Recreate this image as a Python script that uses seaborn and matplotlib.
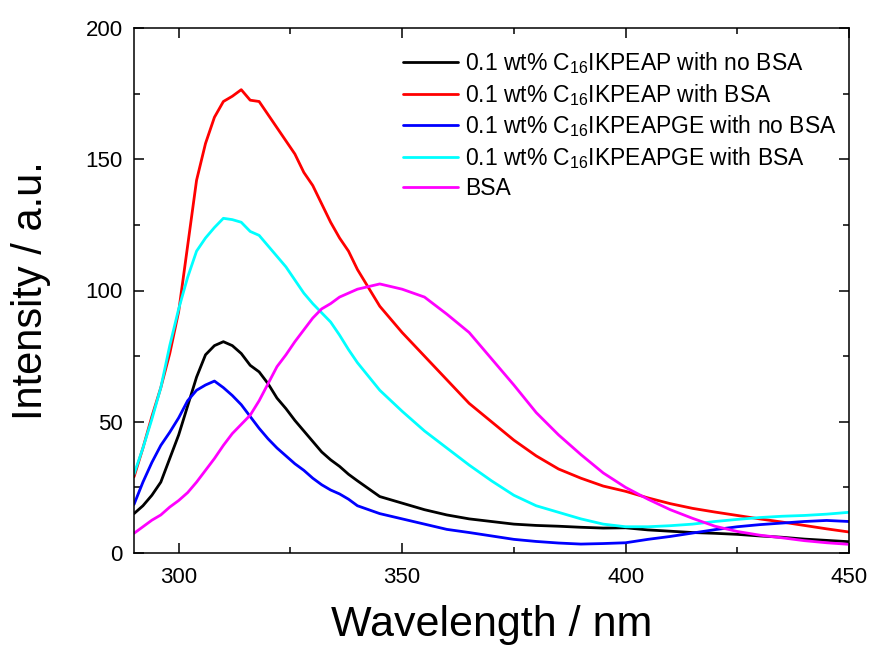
import numpy as np
import pandas as pd
import matplotlib
matplotlib.use('Agg')
import matplotlib.pyplot as plt
from matplotlib.ticker import MultipleLocator
import seaborn as sns

# wavelength grid (nm)
wavelength = [290, 292, 294, 296, 298, 300, 302, 304, 306, 308, 310, 312, 314,
              316, 318, 320, 322, 324, 326, 328, 330, 332, 334, 336, 338, 340,
              345, 350, 355, 360, 365, 370, 375, 380, 385, 390, 395, 400, 405,
              410, 415, 420, 425, 430, 435, 440, 445, 450]

ikpeap_no_bsa = [15, 18, 22, 27, 36, 45, 56, 67, 75.5, 79, 80.5, 79, 76,
                 71.5, 69, 64.5, 59, 55, 50.5, 46.5, 42.5, 38.5, 35.5, 33, 30, 27.5,
                 21.5, 19, 16.5, 14.5, 13, 12, 11, 10.5, 10.2, 9.8, 9.5, 9.6, 8.8,
                 8.3, 7.8, 7.5, 7.1, 6.5, 6, 5.3, 4.8, 4.3]
ikpeap_bsa = [29, 40, 52, 63, 76, 92, 117, 142, 156, 166, 172, 174, 176.5,
              172.5, 172, 167, 162, 157, 152, 145, 140, 133, 126, 120, 115, 108,
              94, 84, 75, 66, 57, 50, 43, 37, 32, 28.5, 25.5, 23.5, 21,
              18.8, 17, 15.6, 14.3, 13, 11.8, 10.5, 9.2, 8]
ikpeapge_no_bsa = [18.5, 27, 34.5, 41, 46, 51.5, 58, 62, 64, 65.5, 63, 60, 56.5,
                   52, 47.5, 43.5, 40, 37, 34, 31.5, 28.5, 26, 24, 22.5, 20.5, 18,
                   15, 13, 11, 9, 7.8, 6.5, 5.2, 4.4, 3.8, 3.4, 3.6, 3.9, 5.2,
                   6.3, 7.6, 8.9, 10, 10.8, 11.4, 12, 12.4, 12]
ikpeapge_bsa = [30, 40, 51, 63, 79, 93, 105, 115, 120, 124, 127.5, 127, 126,
                122.5, 121, 117, 113, 109, 104, 99, 95, 91.5, 88, 83, 77.5, 72.5,
                62, 54, 46.5, 40, 33.5, 27.5, 22, 18, 15.5, 13, 11, 10, 10,
                10.4, 11, 12, 12.8, 13.5, 14, 14.3, 14.8, 15.5]
bsa = [7.5, 10, 12.5, 14.5, 17.5, 20, 23, 27, 31.5, 36, 41, 45.5, 49,
       52.5, 58, 64.5, 71, 75.5, 80.5, 85, 89.5, 93, 95, 97.5, 99, 100.5,
       102.5, 100.5, 97.5, 91, 84, 74, 64, 53.5, 45, 37.5, 30.5, 25, 20.5,
       16.5, 13.2, 10.2, 8.2, 6.8, 5.8, 4.7, 3.9, 3.3]

labels = ['0.1 wt% C$_{16}$IKPEAP with no BSA',
          '0.1 wt% C$_{16}$IKPEAP with BSA',
          '0.1 wt% C$_{16}$IKPEAPGE with no BSA',
          '0.1 wt% C$_{16}$IKPEAPGE with BSA',
          'BSA']
colors = ['#000000', '#ff0000', '#0000ff', '#00ffff', '#ff00ff']
series = [ikpeap_no_bsa, ikpeap_bsa, ikpeapge_no_bsa, ikpeapge_bsa, bsa]

df = pd.concat([pd.DataFrame({'wl': wavelength, 'I': s, 'sample': lab})
                for s, lab in zip(series, labels)], ignore_index=True)

sns.set_theme(style='ticks')
plt.rcParams['font.family'] = ['Liberation Sans', 'DejaVu Sans']
plt.rcParams['mathtext.fontset'] = 'custom'
plt.rcParams['mathtext.rm'] = 'Liberation Sans'
plt.rcParams['mathtext.it'] = 'Liberation Sans:italic'
plt.rcParams['mathtext.bf'] = 'Liberation Sans:bold'
plt.rcParams['mathtext.default'] = 'regular'
for key in ['text.color', 'axes.labelcolor', 'xtick.color', 'ytick.color']:
    plt.rcParams[key] = 'black'

fig = plt.figure(figsize=(8.71, 6.48), dpi=100)
ax = fig.add_axes([134/871, 1-553/648, (849-134)/871, (553-28)/648])

sns.lineplot(data=df, x='wl', y='I', hue='sample', hue_order=labels,
             palette=dict(zip(labels, colors)), linewidth=2, ax=ax)

ax.set_xlim(290, 450)
ax.set_ylim(0, 200)
ax.xaxis.set_major_locator(MultipleLocator(50))
ax.xaxis.set_minor_locator(MultipleLocator(25))
ax.yaxis.set_major_locator(MultipleLocator(50))
ax.yaxis.set_minor_locator(MultipleLocator(25))
ax.tick_params(which='both', direction='in', top=True, right=True,
               width=1.1, color='black')
ax.tick_params(which='major', length=7, labelsize=16, pad=8)
ax.tick_params(axis='x', which='major', pad=10)
ax.tick_params(which='minor', length=4)
for sp in ax.spines.values():
    sp.set_linewidth(1.1)
    sp.set_color('black')

ax.set_xlabel('Wavelength / nm', fontsize=31, labelpad=12)
ax.set_ylabel('Intensity / a.u.', fontsize=30, labelpad=25)

ax.legend(loc='upper right', frameon=False, fontsize=16.5, handlelength=2.4,
          handletextpad=0.3, labelspacing=0.25, borderaxespad=0.4,
          bbox_to_anchor=(1.008, 0.993))

fig.savefig('out.png', dpi=100)
